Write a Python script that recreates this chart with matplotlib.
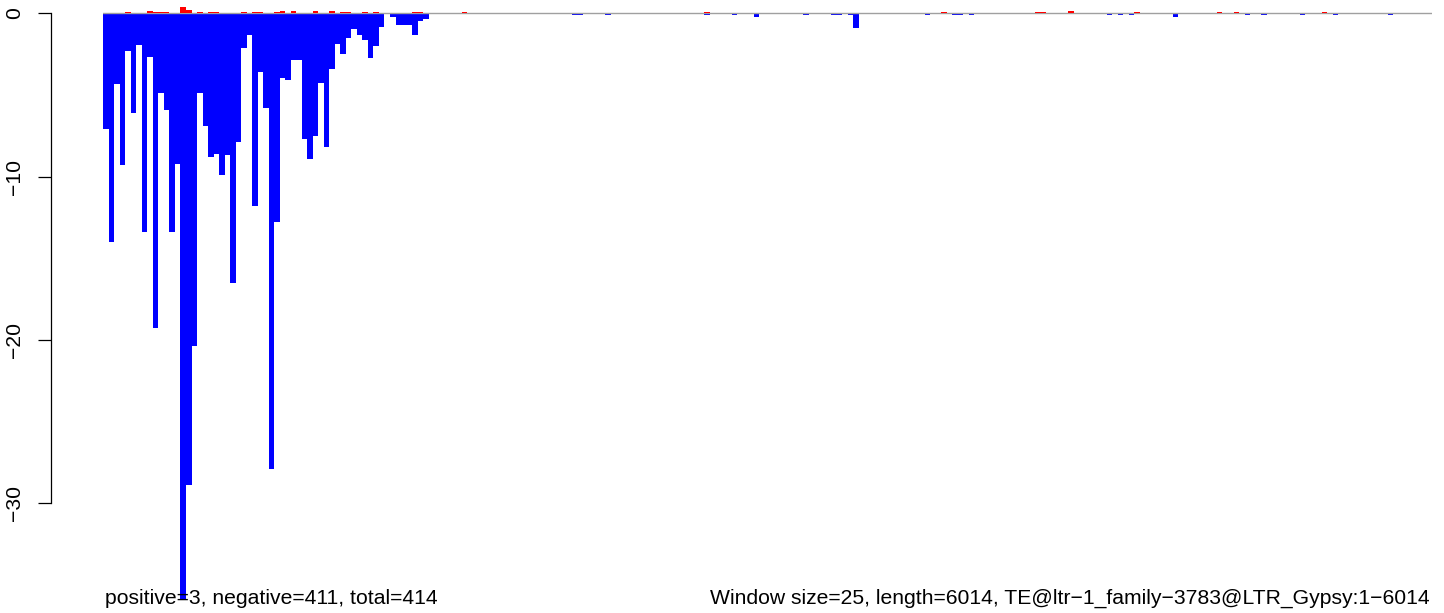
import numpy as np
import matplotlib
matplotlib.use("Agg")
import matplotlib.pyplot as plt

plt.rcParams['font.family'] = ['Liberation Sans', 'DejaVu Sans']

# window counts, 25 bp windows over 6014 bp
n_windows = 241

# negative (antisense) signal, first 59 windows
neg_head = [-7.1, -14.0, -4.3, -9.3, -2.3, -6.1, -1.95, -13.4, -2.7, -19.3,
            -4.9, -5.9, -13.4, -9.2, -35.9, -28.9, -20.4, -4.9, -6.9, -8.8,
            -8.6, -9.9, -8.7, -16.5, -7.9, -2.1, -1.33, -11.8, -3.6, -5.8,
            -27.9, -12.8, -3.95, -4.1, -2.85, -2.85, -7.7, -8.95, -7.5, -4.25,
            -8.2, -3.4, -1.86, -2.47, -1.49, -0.96, -1.31, -1.63, -2.72, -1.98,
            -0.82, 0.0, -0.2, -0.7, -0.7, -0.7, -1.31, -0.45, -0.33]
# sparse negative windows further along
neg_idx = [85, 86, 91, 109, 114, 118, 127, 132, 133, 135, 136, 149, 154, 155,
           157, 182, 184, 186, 194, 207, 210, 217, 223, 233]
neg_val = [-0.1, -0.1, -0.1, -0.1, -0.1, -0.23, -0.1, -0.1, -0.1, -0.1, -0.9,
           -0.1, -0.1, -0.1, -0.1, -0.1, -0.1, -0.1, -0.2, -0.1, -0.1, -0.1,
           -0.1, -0.1]

# positive (sense) signal
pos_idx = [4, 8, 9, 10, 11, 14, 15, 17, 19, 20, 25, 27, 28, 31, 32, 34, 38,
           41, 43, 44, 47, 49, 56, 57, 65, 109, 152, 169, 170, 175, 187, 202,
           205, 221]
pos_val = [0.08, 0.12, 0.08, 0.08, 0.08, 0.4, 0.22, 0.08, 0.08, 0.08, 0.08,
           0.08, 0.08, 0.08, 0.12, 0.12, 0.12, 0.12, 0.08, 0.08, 0.08, 0.08,
           0.08, 0.08, 0.08, 0.08, 0.08, 0.08, 0.08, 0.15, 0.08, 0.08, 0.08,
           0.08]

left_text = "positive=3, negative=411, total=414"
right_text = "Window size=25, length=6014, TE@ltr\u22121_family\u22123783@LTR_Gypsy:1\u22126014"

neg = np.zeros(n_windows)
neg[:len(neg_head)] = neg_head
neg[neg_idx] = neg_val
pos = np.zeros(n_windows)
pos[pos_idx] = pos_val

W, H = 1444, 613
fig = plt.figure(figsize=(W / 100, H / 100), dpi=100)
x0, x1 = 103.3, 1432.0
ax = fig.add_axes([x0 / W, 0, (x1 - x0) / W, 1])

px_per_unit = 16.33
zero_px = 13.3
ax.set_ylim(-(H - zero_px) / px_per_unit, zero_px / px_per_unit)
ax.set_xlim(0, n_windows)

x = np.arange(n_windows)
ax.bar(x, neg, width=1, align='edge', color='#0000ff', linewidth=0, zorder=2)
ax.axhline(0, color='#a0a0a0', lw=1.0, zorder=3)
ax.bar(x, pos, width=1, align='edge', color='#ff0000', linewidth=0, zorder=4)

for s in ['top', 'right', 'bottom']:
    ax.spines[s].set_visible(False)
ax.spines['left'].set_bounds(-30, 0)
ax.spines['left'].set_position(('outward', (x0 - 51) * 0.72))
ax.spines['left'].set_linewidth(0.9)
ax.set_xticks([])
ax.set_yticks([0, -10, -20, -30])
ax.tick_params(axis='y', length=9.4, width=0.9, pad=10, labelsize=15.25)
for lab in ax.get_yticklabels():
    lab.set_rotation(90)
    lab.set_va('center')

fig.text(105 / W, 1 - 604 / H, left_text, ha='left', va='baseline', fontsize=15.25)
fig.text(1430 / W, 1 - 604 / H, right_text, ha='right', va='baseline', fontsize=15.25)

fig.savefig('out.png', dpi=100)
